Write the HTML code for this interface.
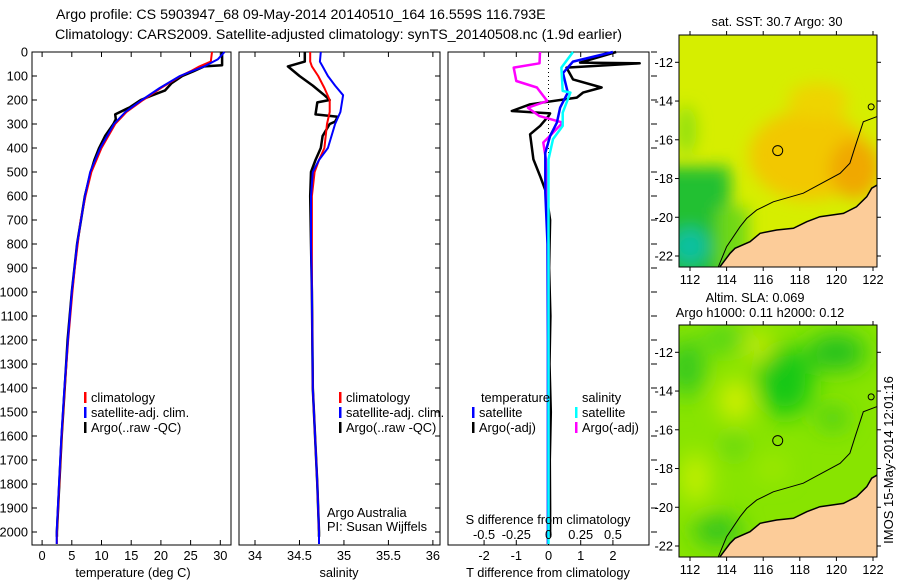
<!DOCTYPE html>
<html><head><meta charset="utf-8">
<style>
html,body{margin:0;padding:0;background:#fff;}
svg{display:block;font-family:"Liberation Sans",sans-serif;}
text{font-size:12.8px;fill:#000;}
</style></head>
<body>
<svg id="fig" width="900" height="580" viewBox="0 0 900 580" xmlns="http://www.w3.org/2000/svg">
<rect width="900" height="580" fill="#fff"/>
<text x="56" y="19" style="font-size:14.2px">Argo profile: CS 5903947_68 09-May-2014 20140510_164 16.559S 116.793E</text>
<text x="55" y="39" style="font-size:14.2px">Climatology: CARS2009. Satellite-adjusted climatology: synTS_20140508.nc (1.9d earlier)</text>
<g id="g1"></g>
<g id="g2"></g>
<g id="g3"></g>
<g id="m1"></g>
<g id="m2"></g>
<text transform="translate(893,460) rotate(-90)" text-anchor="middle" style="font-size:13px">IMOS 15-May-2014 12:01:16</text>
</svg>
<script>
// ---- data ----
const depthTicks = [0,100,200,300,400,500,600,700,800,900,1000,1100,1200,1300,1400,1500,1600,1700,1800,1900,2000];
const tempTicks = [0,5,10,15,20,25,30];
const salTicks = [34,34.5,35,35.5,36];
const salTickLabels = ["34","34.5","35","35.5","36"];
const tdiffTicks = [-2,-1,0,1,2];
const sdiffTicks = [-0.5,-0.25,0,0.25,0.5];
const sdiffTickLabels = ["-0.5","-0.25","0","0.25","0.5"];

const climTDepth = [0,40,60,80,100,150,200,250,300,400,500,600,700,800,900,1000,1200,1400,1600,1800,2000,2050];
const climT      = [28.6,28.4,26.5,25,23.3,20,17,14.2,12.3,10,8.3,7.3,6.5,6,5.5,5.1,4.4,3.8,3.3,2.9,2.5,2.5];
const satTDepth  = [0,30,60,80,100,150,200,250,300,400,500,600,800,1000,1200,1400,1600,1800,2000,2050];
const satT       = [30.7,29.6,27.3,25.2,23.2,19.8,16.8,14,12.1,9.8,8.1,7.2,5.9,5.0,4.35,3.75,3.25,2.85,2.45,2.45];
const argoTDepth = [0,55,60,80,100,130,160,180,200,230,260,280,300,350,400,450,500,600,800,1000,1200,1400,1600,1800,2000,2020];
const argoT      = [30.3,30.3,27.3,25.5,23.6,21.8,20.7,18.6,16.6,14.8,12.3,12.4,12,10.6,9.6,8.8,8.2,7.2,5.9,5.0,4.3,3.8,3.3,2.9,2.5,2.5];

const climSDepth = [0,40,60,100,150,200,250,300,400,450,500,600,800,1000,1400,1800,2000,2050];
const climS      = [34.62,34.62,34.64,34.71,34.78,34.84,34.84,34.81,34.78,34.72,34.67,34.64,34.64,34.64,34.65,34.7,34.72,34.72];
const satSDepth  = [0,40,60,100,140,180,250,300,400,450,500,600,800,1000,1400,1800,2000,2050];
const satS       = [34.74,34.73,34.76,34.82,34.9,34.99,34.96,34.9,34.82,34.72,34.65,34.63,34.63,34.64,34.65,34.7,34.72,34.72];
const argoSDepth = [0,40,60,100,140,180,200,210,260,270,290,300,350,400,450,500,600,800,1000,1400,1800,2000,2020];
const argoS      = [34.56,34.56,34.37,34.5,34.65,34.78,34.84,34.7,34.68,34.93,34.9,34.84,34.76,34.74,34.68,34.63,34.62,34.63,34.64,34.65,34.7,34.72,34.72];

const argoTdDepth = [0,44,47,65,114,148,169,190,218,246,256,267,308,343,447,517,586,700,900,1100,1300,1500,1700,1900,2020];
const argoTd      = [2.1,0.98,2.83,0.56,0.76,1.65,1.07,0.88,-0.57,-1.14,0.05,0.0,-0.26,-0.57,-0.47,-0.26,-0.07,0.05,0.02,0.06,0.03,0.07,0.04,0.05,0.05];
const satTdDepth  = [0,40,88,169,232,294,350,420,586,800,1200,1600,2050];
const satTd       = [2.0,0.76,0.45,0.6,0.36,0.26,0.05,-0.1,-0.1,-0.03,-0.02,-0.02,-0.02];
const satSdDepth  = [0,65,162,169,253,308,363,447,800,1200,1600,2050];
const satSd       = [0.19,0.10,0.11,0.17,0.11,0.11,0.035,0.0,0.0,0.0,0.0,0.0];
const argoSdDepth = [0,47,65,121,148,204,232,267,294,350,377,447,800,1200,1600,2020];
const argoSd      = [-0.066,-0.07,-0.27,-0.25,-0.09,-0.01,-0.16,-0.07,0.11,0.01,-0.04,-0.02,0.0,0.0,0.0,0.0];

// maps
const lonTicks = [112,114,116,118,120,122];
const latTicks = [-12,-14,-16,-18,-20,-22];
const argoLon = 116.793, argoLat = -16.559;
const coastLon = [113.64,114.19,114.46,115.28,115.83,116.74,117.65,118.38,119.1,120.38,121.1,121.66,121.93,122.24];
const coastLat = [-22.55,-21.86,-21.6,-21.26,-20.83,-20.66,-20.57,-20.23,-19.97,-19.8,-19.46,-18.94,-18.5,-18.33];
const isoLon = [113.55,114.0,114.73,115.1,115.64,116.55,118.19,120.2,120.74,121.02,121.47,122.2];
const isoLat = [-22.55,-21.52,-20.49,-20.06,-19.63,-19.2,-18.76,-17.73,-17.21,-16.36,-15.07,-14.81];

// ---- helpers ----
const NS="http://www.w3.org/2000/svg";
function mk(parent,tag,attrs,txt){const e=document.createElementNS(NS,tag);for(const k in attrs)e.setAttribute(k,attrs[k]);if(txt!==undefined)e.textContent=txt;parent.appendChild(e);return e;}
const TOP=52,BOT=545;
const yD = d => TOP + d*0.24;

function panel(g,x0,x1,xmin,xmax,name){
  const sx = v => x0 + (v-xmin)/(xmax-xmin)*(x1-x0);
  const r=mk(g,'rect',{x:x0,y:TOP,width:x1-x0,height:BOT-TOP,fill:'none',stroke:'#000','stroke-width':1});
  
  
  return sx;
}
function line(g,xs,ds,sx,color,w,name){
  const pts=xs.map((v,i)=>sx(v).toFixed(1)+','+yD(ds[i]).toFixed(1)).join(' ');
  const p=mk(g,'polyline',{points:pts,fill:'none',stroke:color,'stroke-width':w,'stroke-linejoin':'round'});
  
  
}
function xticks(g,ticks,labels,sx,name){
  ticks.forEach((t,i)=>{
    const x=sx(t);
    mk(g,'line',{x1:x,y1:BOT,x2:x,y2:BOT-5,stroke:'#000'});
    mk(g,'line',{x1:x,y1:TOP,x2:x,y2:TOP+5,stroke:'#000'});
    const tx=mk(g,'text',{x:x,y:560,'text-anchor':'middle'},labels[i]);
    
    
  });
}
function legend(g,x,y,color,label){
  mk(g,'rect',{x:x,y:y-10,width:2.5,height:11,fill:color});
  const t=mk(g,'text',{x:x+7,y:y},label);
  
  
}

// ---- panel 1 ----
const g1=document.getElementById('g1');
const sxT=panel(g1,32,231,-1.7,31.8,'temperature-panel');
depthTicks.forEach(d=>{
  mk(g1,'line',{x1:32,y1:yD(d),x2:37,y2:yD(d),stroke:'#000'});
  const t=mk(g1,'text',{x:28,y:yD(d)+4.5,'text-anchor':'end'},String(d));
  
  
});
xticks(g1,tempTicks,tempTicks.map(String),sxT,'temperature');
line(g1,argoT,argoTDepth,sxT,'#000',2.5,'argo-temperature-line');
line(g1,climT,climTDepth,sxT,'#f00',2,'clim-temperature-line');
line(g1,satT,satTDepth,sxT,'#00f',2,'sat-temperature-line');
legend(g1,84,402,'#f00','climatology');
legend(g1,84,417,'#00f','satellite-adj. clim.');
legend(g1,84,432,'#000','Argo(..raw -QC)');
mk(g1,'text',{x:133,y:577,'text-anchor':'middle',},'temperature (deg C)');

// ---- panel 2 ----
const g2=document.getElementById('g2');
const sxS=panel(g2,239,440,33.82,36.08,'salinity-panel');
depthTicks.forEach(d=>{mk(g2,'line',{x1:440,y1:yD(d),x2:435,y2:yD(d),stroke:'#000'});});
xticks(g2,salTicks,salTickLabels,sxS,'salinity');
line(g2,argoS,argoSDepth,sxS,'#000',2.5,'argo-salinity-line');
line(g2,climS,climSDepth,sxS,'#f00',2,'clim-salinity-line');
line(g2,satS,satSDepth,sxS,'#00f',2,'sat-salinity-line');
legend(g2,339,402,'#f00','climatology');
legend(g2,339,417,'#00f','satellite-adj. clim.');
legend(g2,339,432,'#000','Argo(..raw -QC)');
mk(g2,'text',{x:327,y:517,},'Argo Australia');
mk(g2,'text',{x:327,y:531,},'PI: Susan Wijffels');
mk(g2,'text',{x:339,y:577,'text-anchor':'middle',},'salinity');

// ---- panel 3 ----
const g3=document.getElementById('g3');
const sxD=panel(g3,448,649,-3.12,3.12,'difference-panel');
const sxSd = v => sxD(v*4);
depthTicks.forEach(d=>{mk(g3,'line',{x1:651,y1:yD(d),x2:657,y2:yD(d),stroke:'#000'});});
xticks(g3,tdiffTicks,tdiffTicks.map(String),sxD,'t-difference');
mk(g3,'line',{x1:sxD(0),y1:TOP,x2:sxD(0),y2:BOT,stroke:'#000','stroke-dasharray':'1,3'});
line(g3,argoTd,argoTdDepth,sxD,'#000',2.5,'argo-t-diff-line');
line(g3,argoSd,argoSdDepth,sxSd,'#f0f',2.5,'argo-s-diff-line');
line(g3,satTd,satTdDepth,sxD,'#00f',2.5,'sat-t-diff-line');
line(g3,satSd,satSdDepth,sxSd,'#0ff',2.5,'sat-s-diff-line');
mk(g3,'text',{x:481,y:402,},'temperature');
mk(g3,'text',{x:582,y:402,},'salinity');
legend(g3,472,417,'#00f','satellite');
legend(g3,472,432,'#000','Argo(-adj)');
legend(g3,575,417,'#0ff','satellite');
legend(g3,575,432,'#f0f','Argo(-adj)');
mk(g3,'text',{x:548,y:524,'text-anchor':'middle',},'S difference from climatology');
sdiffTicks.forEach((t,i)=>{
  const tx=mk(g3,'text',{x:sxSd(t),y:539,'text-anchor':'middle'},sdiffTickLabels[i]);
  
  
});
mk(g3,'text',{x:548,y:577,'text-anchor':'middle',},'T difference from climatology');

// ---- maps ----
const MX0=679,MX1=877;
const lx = lon => 690 + (lon-112)*18.3;
function buildMap(id,top,kind){
  const g=document.getElementById(id);
  const ly = lat => top + 27.3 + (-12-lat)*19.37;
  const bot = top+232;
  const cid='clip'+id;
  const defs=mk(g,'defs',{});
  const cp=mk(defs,'clipPath',{id:cid});
  mk(cp,'rect',{x:MX0,y:top,width:MX1-MX0,height:232});
  const f=mk(defs,'filter',{id:'blur'+id,x:'-50%',y:'-50%',width:'200%',height:'200%'});
  mk(f,'feGaussianBlur',{stdDeviation:kind==='sst'?8:12});
  const cg=mk(g,'g',{'clip-path':'url(#'+cid+')'});
  if(kind==='sst'){
    mk(cg,'rect',{x:MX0,y:top,width:198,height:232,fill:'#d6ee00'});
    const b2=mk(cg,'g',{filter:'url(#blur'+id+')'});
    mk(b2,'ellipse',{cx:lx(118.5),cy:ly(-16.8),rx:60,ry:45,fill:'#f2c800'});
    mk(b2,'ellipse',{cx:lx(121),cy:ly(-17.5),rx:25,ry:30,fill:'#f0a800'});
    mk(b2,'ellipse',{cx:lx(119),cy:ly(-14),rx:30,ry:18,fill:'#eed400'});
    mk(b2,'rect',{x:MX0-20,y:ly(-17.4),width:lx(114.2)-MX0+20,height:120,fill:'#22c030'});
    mk(b2,'rect',{x:lx(113.5),y:ly(-19.5),width:lx(115.2)-lx(113.5),height:70,fill:'#70d818'});
    mk(b2,'ellipse',{cx:lx(112),cy:ly(-21.5),rx:18,ry:18,fill:'#10c0a0'});
    mk(b2,'ellipse',{cx:lx(111.8),cy:ly(-15.5),rx:10,ry:25,fill:'#90e010'});
  } else {
    mk(cg,'rect',{x:MX0,y:top,width:198,height:232,fill:'#88e400'});
    const b2=mk(cg,'g',{filter:'url(#blur'+id+')'});
    [[117.2,-13.5,28,35,'#18c818'],[120,-12,30,18,'#20c020'],[111.8,-12.8,18,28,'#30c820'],[113.5,-21.2,24,14,'#28c020'],[119.8,-15.4,14,10,'#30c820'],[114,-11.3,25,10,'#40d020'],[114.4,-16.8,12,10,'#50d020']].forEach(b=>mk(b2,'ellipse',{cx:lx(b[0]),cy:ly(b[1]),rx:b[2],ry:b[3],fill:b[4]}));
    [[114.5,-14.5,16,20,'#d8f000'],[115.7,-11.7,12,14,'#d8f000'],[112.3,-18.5,14,25,'#c8f000'],[116.5,-18,14,10,'#a8ea00']].forEach(b=>mk(b2,'ellipse',{cx:lx(b[0]),cy:ly(b[1]),rx:b[2],ry:b[3],fill:b[4]}));
  }
  let pts=coastLon.map((v,i)=>lx(v).toFixed(1)+','+ly(coastLat[i]).toFixed(1));
  pts.push(lx(122.3)+','+(bot+2)); pts.push(lx(113.5)+','+(bot+2));
  const land=mk(cg,'polygon',{points:pts.join(' '),fill:'#fccc99'});
  
  
  const coast=mk(cg,'polyline',{points:coastLon.map((v,i)=>lx(v).toFixed(1)+','+ly(coastLat[i]).toFixed(1)).join(' '),fill:'none',stroke:'#000','stroke-width':1.5});
  
  
  const iso=mk(cg,'polyline',{points:isoLon.map((v,i)=>lx(v).toFixed(1)+','+ly(isoLat[i]).toFixed(1)).join(' '),fill:'none',stroke:'#000','stroke-width':1});
  
  
  mk(cg,'circle',{cx:lx(121.9),cy:ly(-14.3),r:3,fill:'none',stroke:'#000'});
  const c=mk(g,'circle',{cx:lx(argoLon),cy:ly(argoLat),r:5,fill:'none',stroke:'#000','stroke-width':1});
  
  
  mk(g,'rect',{x:MX0,y:top,width:MX1-MX0,height:232,fill:'none',stroke:'#000'});
  lonTicks.forEach(l=>{
    mk(g,'line',{x1:lx(l),y1:top,x2:lx(l),y2:top-4,stroke:'#000'});
    mk(g,'line',{x1:lx(l),y1:bot,x2:lx(l),y2:bot+4,stroke:'#000'});
    const t=mk(g,'text',{x:lx(l),y:bot+17,'text-anchor':'middle'},String(l));
    
    
  });
  latTicks.forEach(l=>{
    mk(g,'line',{x1:MX0,y1:ly(l),x2:MX0-4,y2:ly(l),stroke:'#000'});
    mk(g,'line',{x1:MX1,y1:ly(l),x2:MX1+4,y2:ly(l),stroke:'#000'});
    const t=mk(g,'text',{x:673,y:ly(l)+4.5,'text-anchor':'end'},String(l));
    
    
  });
}
buildMap('m1',35,'sst');
buildMap('m2',325,'sla');
const m1=document.getElementById('m1');
mk(m1,'text',{x:777,y:26,'text-anchor':'middle',},'sat. SST: 30.7 Argo: 30');
const m2=document.getElementById('m2');
mk(m2,'text',{x:755,y:302,'text-anchor':'middle',},'Altim. SLA: 0.069');
mk(m2,'text',{x:760,y:317,'text-anchor':'middle',},'Argo h1000: 0.11 h2000: 0.12');
</script>
</body></html>
